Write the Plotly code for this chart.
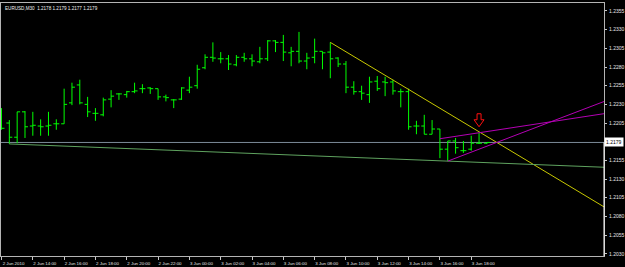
import plotly.graph_objects as go
import pandas as pd

# ---------------- data ----------------
symbol = "EURUSD,M30"
start_time = "2010-06-02 12:00"
bar_minutes = 30

opens = [1.2215, 1.2205, 1.2186, 1.2220, 1.2201, 1.2201, 1.2201, 1.2204, 1.2204, 1.2232,
         1.2256, 1.2230, 1.2218, 1.2216, 1.2237, 1.2244, 1.2243, 1.2247, 1.2251, 1.2252,
         1.2251, 1.2240, 1.2236, 1.2237, 1.2249, 1.2255, 1.2279, 1.2293, 1.2291, 1.2291,
         1.2283, 1.2293, 1.2291, 1.2287, 1.2291, 1.2315, 1.2313, 1.2299, 1.2301, 1.2288,
         1.2293, 1.2301, 1.2300, 1.2292, 1.2284, 1.2253, 1.2247, 1.2243, 1.2261, 1.2260,
         1.2260, 1.2247, 1.2247, 1.2201, 1.2201, 1.2190, 1.2197, 1.2170, 1.2181, 1.2168,
         1.2170, 1.2178, 1.2178]
highs = [1.2225, 1.2209, 1.2220, 1.2221, 1.2220, 1.2210, 1.2220, 1.2210, 1.2251, 1.2259,
         1.2263, 1.2240, 1.2225, 1.2239, 1.2249, 1.2245, 1.2248, 1.2259, 1.2257, 1.2253,
         1.2251, 1.2243, 1.2237, 1.2253, 1.2267, 1.2283, 1.2297, 1.2313, 1.2300, 1.2296,
         1.2296, 1.2299, 1.2297, 1.2307, 1.2316, 1.2316, 1.2323, 1.2307, 1.2327, 1.2299,
         1.2318, 1.2301, 1.2313, 1.2293, 1.2288, 1.2261, 1.2255, 1.2267, 1.2268, 1.2267,
         1.2263, 1.2251, 1.2251, 1.2208, 1.2216, 1.2209, 1.2197, 1.2181, 1.2185, 1.2181,
         1.2188, 1.2192, 1.2179]
lows = [1.2196, 1.2177, 1.2178, 1.2185, 1.2188, 1.2188, 1.2188, 1.2196, 1.2204, 1.2229,
        1.2230, 1.2213, 1.2208, 1.2214, 1.2226, 1.2236, 1.2239, 1.2245, 1.2245, 1.2244,
        1.2236, 1.2234, 1.2225, 1.2236, 1.2245, 1.2251, 1.2277, 1.2287, 1.2285, 1.2276,
        1.2281, 1.2287, 1.2281, 1.2285, 1.2288, 1.2300, 1.2288, 1.2281, 1.2285, 1.2277,
        1.2285, 1.2277, 1.2265, 1.2280, 1.2245, 1.2243, 1.2236, 1.2232, 1.2248, 1.2241,
        1.2243, 1.2226, 1.2196, 1.2190, 1.2190, 1.2190, 1.2158, 1.2154, 1.2164, 1.2165,
        1.2168, 1.2177, 1.2177]
closes = [1.2198, 1.2186, 1.2220, 1.2200, 1.2202, 1.2200, 1.2202, 1.2204, 1.2230, 1.2253,
          1.2232, 1.2220, 1.2218, 1.2236, 1.2241, 1.2244, 1.2247, 1.2248, 1.2251, 1.2251,
          1.2240, 1.2239, 1.2236, 1.2252, 1.2253, 1.2277, 1.2293, 1.2292, 1.2291, 1.2284,
          1.2293, 1.2291, 1.2288, 1.2291, 1.2315, 1.2313, 1.2300, 1.2301, 1.2288, 1.2292,
          1.2301, 1.2299, 1.2291, 1.2284, 1.2253, 1.2247, 1.2245, 1.2260, 1.2251, 1.2259,
          1.2248, 1.2247, 1.2200, 1.2201, 1.2190, 1.2197, 1.2170, 1.2181, 1.2172, 1.2168,
          1.2178, 1.2178, 1.2179]

bid_price = 1.2179

time_tick_bars = [0, 4, 8, 12, 16, 20, 24, 28, 32, 36, 40, 44, 48, 52, 56, 60]
time_tick_labels = ["2 Jun 2010", "2 Jun 14:00", "2 Jun 16:00", "2 Jun 18:00", "2 Jun 20:00",
                    "2 Jun 22:00", "3 Jun 00:00", "3 Jun 02:00", "3 Jun 04:00", "3 Jun 06:00",
                    "3 Jun 08:00", "3 Jun 10:00", "3 Jun 12:00", "3 Jun 14:00", "3 Jun 16:00",
                    "3 Jun 18:00"]
price_ticks = [1.2355, 1.2330, 1.2305, 1.2280, 1.2255, 1.2230, 1.2205,
               1.2155, 1.2130, 1.2105, 1.2080, 1.2055, 1.2030]
price_tick_labels = ["1.2355", "1.2330", "1.2305", "1.2280", "1.2255", "1.2230", "1.2205",
                     "1.2155", "1.2130", "1.2105", "1.2080", "1.2055", "1.2030"]

# trendlines: (bar1, price1, bar2, price2, color) -> drawn as rays to the right
trend_bar1 = [42, 1, 56, 57]
trend_price1 = [1.2313, 1.2177, 1.2184, 1.2154]
trend_bar2 = [52, 57, 61, 62]
trend_price2 = [1.2250, 1.2154, 1.2192, 1.2174]
trend_colors = ["#C8C800", "#5FA35F", "#B400B4", "#B400B4"]

arrow_bar = 61
arrow_price = 1.2192

# ---------------- figure ----------------
times = pd.date_range(start_time, periods=len(opens), freq=f"{bar_minutes}min")
t0 = times[0]
step = pd.Timedelta(minutes=bar_minutes)


def bar_time(i):
    return t0 + step * i


fig = go.Figure()

# bid line
fig.add_shape(type="line", xref="paper", x0=0, x1=1, yref="y", y0=bid_price, y1=bid_price,
              line=dict(color="#7C8A98", width=1), layer="below")

fig.add_trace(go.Ohlc(
    x=times, open=opens, high=highs, low=lows, close=closes,
    increasing=dict(line=dict(color="#00FF00", width=1)),
    decreasing=dict(line=dict(color="#00FF00", width=1)),
    tickwidth=0.38, hoverinfo="skip", showlegend=False,
))

ray_end = 82
for b1, p1, b2, p2, col in zip(trend_bar1, trend_price1, trend_bar2, trend_price2, trend_colors):
    slope = (p2 - p1) / (b2 - b1)
    pe = p1 + slope * (ray_end - b1)
    fig.add_trace(go.Scatter(
        x=[bar_time(b1), bar_time(ray_end)], y=[p1, pe], mode="lines",
        line=dict(color=col, width=1), hoverinfo="skip", showlegend=False,
    ))

# red hollow down-arrow above the bar
fig.add_shape(type="path", xref="x", yref="y", xsizemode="pixel", ysizemode="pixel",
              xanchor=bar_time(arrow_bar), yanchor=arrow_price,
              path="M 0 6 L -5 13 L -2 13 L -2 19 L 2 19 L 2 13 L 5 13 Z",
              line=dict(color="#FF1010", width=1), fillcolor="rgba(0,0,0,0)")

# right frame lower part in white
fig.add_shape(type="line", xref="paper", x0=1, x1=1, yref="y", y0=bid_price, y1=1.2027,
              line=dict(color="white", width=1))

x_start = t0 - pd.Timedelta(seconds=115)
x_end = x_start + pd.Timedelta(minutes=2310.7)

font_family = "Liberation Sans, DejaVu Sans, sans-serif"
fig.update_layout(
    width=625, height=267,
    margin=dict(l=0, r=20, t=3, b=11),
    paper_bgcolor="black", plot_bgcolor="black",
    showlegend=False,
    xaxis=dict(
        type="date", range=[x_start, x_end], showgrid=False, zeroline=False,
        rangeslider=dict(visible=False),
        tickvals=[bar_time(i) for i in time_tick_bars], ticktext=time_tick_labels,
        ticks="outside", ticklen=3, tickcolor="#C8C8C8", tickangle=0,
        tickfont=dict(size=4.4, color="#E6E6E6", family=font_family),
        ticklabelshift=12, ticklabelstandoff=0,
        showline=True, linecolor="#B4B4B4", linewidth=1, mirror=True,
    ),
    yaxis=dict(
        side="right", range=[1.20270, 1.23657], showgrid=False, zeroline=False,
        tickvals=price_ticks, ticktext=price_tick_labels,
        ticks="outside", ticklen=2, tickcolor="#C8C8C8",
        tickfont=dict(size=5, color="#E6E6E6", family=font_family),
        ticklabelstandoff=1,
        showline=True, linecolor="#B4B4B4", linewidth=1, mirror=True,
    ),
)

last = len(opens) - 1
title_text = f"{symbol}  {opens[last]:.4f} {highs[last]:.4f} {lows[last]:.4f} {closes[last]:.4f}"
fig.add_annotation(text=title_text, xref="paper", yref="paper", x=0, y=1, xanchor="left",
                   yanchor="top", xshift=2, yshift=-1, showarrow=False,
                   font=dict(size=4.6, color="#F0F0F0", family=font_family))

fig.add_annotation(text=f"{bid_price:.4f}", xref="paper", yref="y", x=1, y=bid_price,
                   xanchor="left", yanchor="middle", xshift=0, showarrow=False,
                   bgcolor="white", borderpad=1,
                   font=dict(size=5, color="black", family=font_family))

fig.write_html("out.html")
